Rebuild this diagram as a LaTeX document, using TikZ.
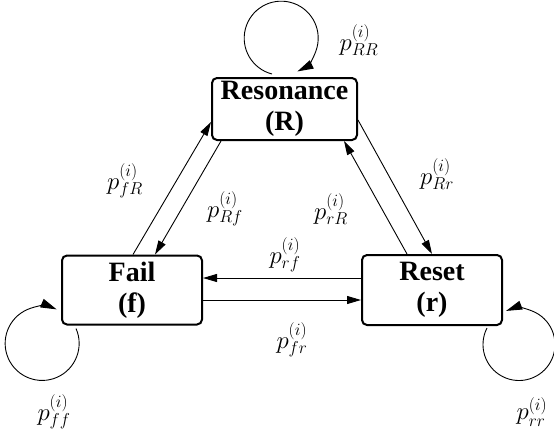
\documentclass[tikz,border=0pt]{standalone}
\usepackage{fontspec}
\setmainfont{Liberation Serif}
\usetikzlibrary{arrows.meta,calc}
\tikzset{
  state/.style={draw, line width=2bp, rounded corners=5bp, align=center, inner sep=0pt,
    font=\fontsize{28bp}{26bp}\selectfont\bfseries},
  trans/.style={line width=0.9bp, -{Triangle[length=14bp,width=8bp]}},
  looptr/.style={line width=0.9bp, -{Triangle[length=16bp,width=9bp]}},
  lbl/.style={inner sep=0pt, font=\fontsize{26bp}{30bp}\selectfont}
}
\begin{document}
\begin{tikzpicture}[x=1bp,y=1bp]
\useasboundingbox (0,0) rectangle (554,432);
\node[state, minimum width=145bp, minimum height=62bp] (R) at (284.5,323) {Resonance\\[5bp](R)};
\node[state, minimum width=140bp, minimum height=69bp] (f) at (132,142) {Fail\\[5bp](f)};
\node[state, minimum width=140bp, minimum height=70bp] (r) at (432,142) {Reset\\[5bp](r)};
% triangle edges
\draw[trans] ($(f.north)+(1,0)$) -- ($(R.west)+(0,-13)$);
\draw[trans] ($(R.south west)+(10,0)$) -- ($(f.north)+(23,0)$);
\draw[trans] ($(R.east)+(0,-11)$) -- (r.north);
\draw[trans] ($(r.north)+(-25,0)$) -- ($(R.south east)+(-14,0)$);
\draw[trans] ($(r.west)+(0,12)$) -- ($(f.east)+(0,12)$);
\draw[trans] ($(f.east)+(0,-10)$) -- ($(r.west)+(0,-10)$);
% self loops
\coordinate (Rs) at ($(R.north)+(-12.5,3)$);
\draw[looptr] (Rs) arc[start angle=255.6, end angle=-64, radius=37];
\coordinate (fs) at ($(f.south west)+(15,-3)$);
\draw[looptr] (fs) arc[start angle=23.8, end angle=-293, radius=37];
\coordinate (rs) at ($(r.south east)+(-16,-2)$);
\draw[looptr] (rs) arc[start angle=152.7, end angle=471, radius=36];
% labels
\node[lbl] (lRR) at (359,392) {$p^{(i)}_{RR}$};
\node[lbl] (lfR) at (125,251) {$p^{(i)}_{fR}$};
\node[lbl] (lRf) at (225,223) {$p^{(i)}_{Rf}$};
\node[lbl] (lrR) at (331,223) {$p^{(i)}_{rR}$};
\node[lbl] (lRr) at (437,258) {$p^{(i)}_{Rr}$};
\node[lbl] (lrf) at (285,177) {$p^{(i)}_{rf}$};
\node[lbl] (lfr) at (292,92) {$p^{(i)}_{fr}$};
\node[lbl] (lff) at (54,20) {$p^{(i)}_{ff}$};
\node[lbl] (lrr) at (532,20) {$p^{(i)}_{rr}$};
\end{tikzpicture}
\end{document}
